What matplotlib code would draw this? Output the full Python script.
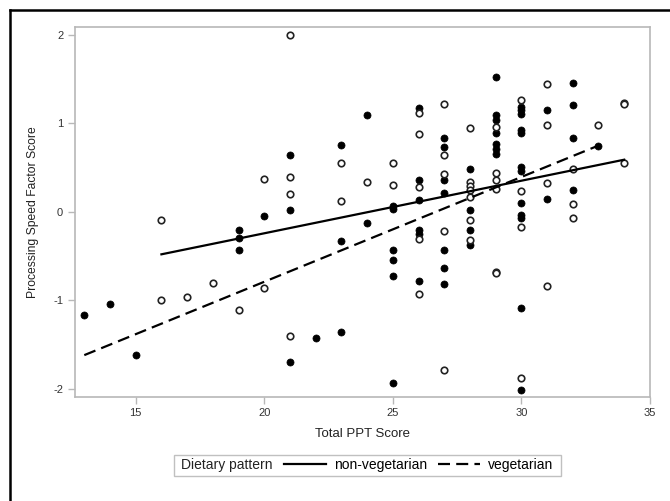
import numpy as np
import matplotlib
matplotlib.use("Agg")
import matplotlib.pyplot as plt
from matplotlib.lines import Line2D
from matplotlib.patches import Rectangle

plt.rcParams['font.family'] = ['Liberation Sans', 'DejaVu Sans']
plt.rcParams['axes.unicode_minus'] = False

# non-vegetarian (filled circles)
nonveg_x = [13, 14, 15,
            19, 19, 19,
            20,
            21, 21, 21,
            22,
            23, 23, 23,
            24, 24,
            25, 25, 25, 25, 25, 25,
            26, 26, 26, 26, 26, 26,
            27, 27, 27, 27, 27, 27, 27,
            28, 28, 28, 28,
            29, 29, 29, 29, 29, 29, 29,
            30, 30, 30, 30, 30, 30, 30, 30, 30, 30, 30, 30,
            31, 31,
            32, 32, 32, 32,
            33]
nonveg_y = [-1.17, -1.04, -1.62,
            -0.20, -0.29, -0.435,
            -0.05,
            0.64, 0.02, -1.70,
            -1.43,
            0.76, -0.33, -1.36,
            1.10, -0.13,
            0.07, 0.03, -0.435, -0.54, -0.73, -1.93,
            1.17, 0.36, 0.13, -0.20, -0.25, -0.78,
            0.83, 0.73, 0.36, 0.21, -0.43, -0.63, -0.82,
            0.49, 0.02, -0.20, -0.37,
            1.53, 1.09, 1.04, 0.89, 0.77, 0.71, 0.66,
            1.19, 1.15, 0.93, 0.89, 0.51, 0.46, 0.10, -0.03, -0.07, -1.09, -2.01, 1.11,
            1.15, 0.14,
            1.46, 1.21, 0.83, 0.25,
            0.74]

# vegetarian (open circles)
veg_x = [16, 16, 17, 18, 19,
         20, 20,
         21, 21, 21, 21,
         23, 23,
         24,
         25, 25,
         26, 26, 26, 26, 26,
         27, 27, 27, 27, 27,
         28, 28, 28, 28, 28, 28, 28,
         29, 29, 29, 29, 29, 29,
         30, 30, 30, 30,
         31, 31, 31, 31,
         32, 32, 32,
         33,
         34, 34, 34]
veg_y = [-0.09, -1.00, -0.96, -0.80, -1.11,
         0.37, -0.86,
         2.00, 0.39, 0.205, -1.40,
         0.55, 0.125,
         0.34,
         0.55, 0.30,
         1.12, 0.88, 0.28, -0.31, -0.93,
         1.22, 0.64, 0.43, -0.22, -1.79,
         0.95, 0.34, 0.29, 0.25, 0.17, -0.09, -0.32,
         0.96, 0.44, 0.36, 0.26, -0.68, -0.69,
         1.26, 0.24, -0.17, -1.88,
         1.45, 0.98, 0.33, -0.84,
         0.49, 0.09, -0.07,
         0.98,
         1.23, 1.22, 0.55]

# fitted lines as drawn in the reference
solid_x = [16, 34]
solid_y = [-0.48, 0.59]
dashed_x = [13, 33]
dashed_y = [-1.62, 0.75]

xticks = [15, 20, 25, 30, 35]
yticks = [-2, -1, 0, 1, 2]

DASH = (5.4, 2.8)

fig = plt.figure(figsize=(6.7, 5.01), dpi=100)
ax = fig.add_axes([0.112, 0.2082, 0.858, 0.7385])

ax.scatter(nonveg_x, nonveg_y, s=26, color='black', edgecolors='black', linewidths=0.5, zorder=3)
ax.scatter(veg_x, veg_y, s=22, facecolors='white', edgecolors='#222222', linewidths=1.2, zorder=3)

ax.plot(solid_x, solid_y, color='black', lw=1.6, zorder=4)
ax.plot(dashed_x, dashed_y, color='black', lw=1.6, dashes=DASH, zorder=4)

ax.set_xlim(12.64, 34.89)
ax.set_ylim(-2.09, 2.094)
ax.set_xticks(xticks)
ax.set_yticks(yticks)

for sp in ax.spines.values():
    sp.set_color('#b8b8b8')
    sp.set_linewidth(1.2)
ax.tick_params(colors='#b8b8b8', labelcolor='#333333', labelsize=8, length=5, width=1)

ax.set_xlabel('Total PPT Score', fontsize=9.5, color='#222222', labelpad=7)
ax.set_ylabel('Processing Speed Factor Score', fontsize=8.7, color='#222222', labelpad=10)

# legend row
leg_handles = [Line2D([], [], color='black', lw=1.6),
               Line2D([], [], color='black', lw=1.6, dashes=DASH)]
fig.text(181 / 670, 1 - 465 / 501, 'Dietary pattern', fontsize=10, color='#222222', va='center')
fig.legend(leg_handles, ['non-vegetarian', 'vegetarian'], ncol=2, frameon=False,
           loc='center left', bbox_to_anchor=(284 / 670, 1 - 465 / 501), fontsize=10,
           borderpad=0, borderaxespad=0,
           handlelength=3.0, handletextpad=0.6, columnspacing=0.8)
fig.patches.append(Rectangle((174 / 670, 1 - 476 / 501), (561 - 174) / 670, 21 / 501,
                             transform=fig.transFigure, fill=False,
                             edgecolor='#c0c0c0', lw=1))

# outer frame (top and left edges visible in the reference)
fig.add_artist(Line2D([10 / 670, 1], [1 - 10 / 501, 1 - 10 / 501],
                      transform=fig.transFigure, color='black', lw=1.8))
fig.add_artist(Line2D([10 / 670, 10 / 670], [0, 1 - 10 / 501],
                      transform=fig.transFigure, color='black', lw=1.8))

fig.savefig('out.png', dpi=100)
